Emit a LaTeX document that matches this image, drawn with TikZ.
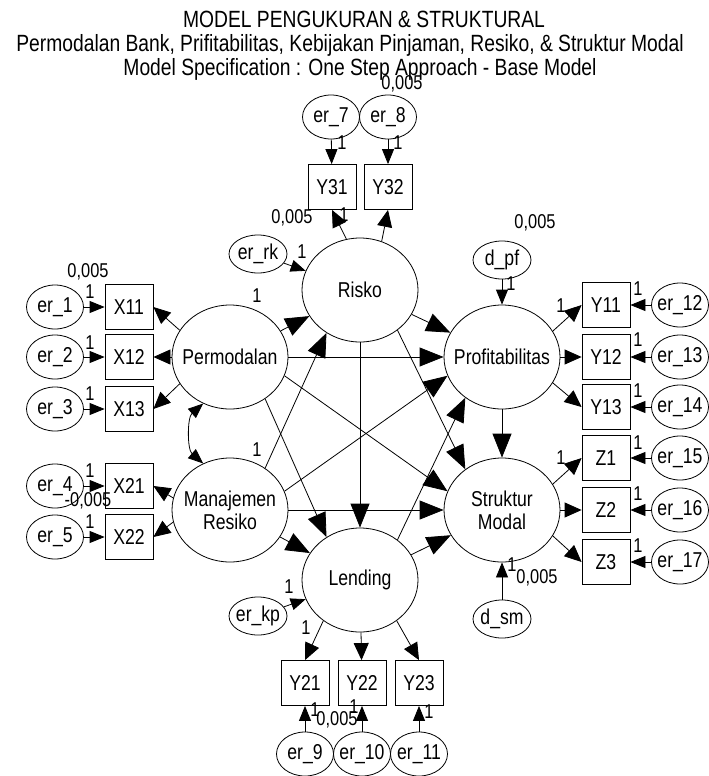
\documentclass[tikz,border=0pt]{standalone}
\usepackage{fontspec}
\setmainfont{Liberation Sans}[FakeStretch=0.82]
\usetikzlibrary{arrows.meta,shapes.geometric}

\newcommand{\zbox}[1]{\makebox[0pt]{#1}}

\begin{document}
\begin{tikzpicture}[
			x=1pt, y=-1pt,
			line width=0.8pt,
			every node/.style={font=\fontsize{21.5}{23}\selectfont, inner sep=0pt},
			latent/.style={draw, ellipse, minimum width=116pt, minimum height=104pt, align=center},
			obs/.style={draw, rectangle, minimum width=48pt, minimum height=45pt},
			err/.style={draw, ellipse, minimum width=57pt, minimum height=44pt},
			dist/.style={draw, ellipse, minimum width=58pt, minimum height=38pt},
			num/.style={font=\fontsize{20}{22}\selectfont},
			title/.style={anchor=base, font=\fontsize{23.5}{25}\selectfont},
			path_big/.style={-{Triangle[length=24pt,width=19pt]}},
			path_mid/.style={-{Triangle[length=17pt,width=15pt]}},
			path_err/.style={-{Triangle[length=15pt,width=12pt]}},
			path_cov/.style={{Triangle[length=15pt,width=12pt]}-{Triangle[length=15pt,width=12pt]}}
			]
			\useasboundingbox (0,0) rectangle (709,776);
			
			% Title
			\node (title_a) [title] at (364,28) {MODEL PENGUKURAN \& STRUKTURAL};
			\node (title_b) [title] at (350,52) {Permodalan Bank, Prifitabilitas, Kebijakan Pinjaman, Resiko, \& Struktur Modal};
			\node (title_c) [title] at (360,75) {Model Specification : One Step Approach - Base Model};
			
			% Latent variables
			\node (perm) [latent] at (230,357) {\zbox{Permodalan}};
			\node (mnj) [latent] at (230,510) {\zbox{Manajemen}\\\zbox{Resiko}};
			\node (risk) [latent] at (360,290) {\zbox{Risko}};
			\node (prof) [latent] at (502,357) {\zbox{Profitabilitas}};
			\node (strk) [latent] at (502,510) {\zbox{Struktur}\\\zbox{Modal}};
			\node (lend) [latent] at (360,580) {\zbox{Lending}};
			
			% Indicators
			\node (x11) [obs] at (129,307) {X11};
			\node (x12) [obs] at (129,357) {X12};
			\node (x13) [obs] at (129,409) {X13};
			\node (x21) [obs] at (129,486) {X21};
			\node (x22) [obs] at (129,537) {X22};
			\node (y31) [obs] at (332,187) {Y31};
			\node (y32) [obs] at (388,187) {Y32};
			\node (y11) [obs] at (606,305) {Y11};
			\node (y12) [obs] at (606,357) {Y12};
			\node (y13) [obs] at (606,407) {Y13};
			\node (z1) [obs] at (606,458) {Z1};
			\node (z2) [obs] at (606,510) {Z2};
			\node (z3) [obs] at (606,562) {Z3};
			\node (y21) [obs] at (305,683) {Y21};
			\node (y22) [obs] at (362,683) {Y22};
			\node (y23) [obs] at (419,683) {Y23};
			
			% Error terms
			\node (er1) [err] at (55,307) {\zbox{er\_1}};
			\node (er2) [err] at (55,357) {\zbox{er\_2}};
			\node (er3) [err] at (55,409) {\zbox{er\_3}};
			\node (er4) [err] at (55,486) {\zbox{er\_4}};
			\node (er5) [err] at (55,537) {\zbox{er\_5}};
			\node (er7) [err] at (331,117) {\zbox{er\_7}};
			\node (er8) [err] at (388,117) {\zbox{er\_8}};
			\node (er12) [err] at (680,305) {\zbox{er\_12}};
			\node (er13) [err] at (680,357) {\zbox{er\_13}};
			\node (er14) [err] at (680,407) {\zbox{er\_14}};
			\node (er15) [err] at (680,458) {\zbox{er\_15}};
			\node (er16) [err] at (680,510) {\zbox{er\_16}};
			\node (er17) [err] at (680,562) {\zbox{er\_17}};
			\node (er9) [err] at (305,754) {\zbox{er\_9}};
			\node (er10) [err] at (362,754) {\zbox{er\_10}};
			\node (er11) [err] at (419,754) {\zbox{er\_11}};
			\node (er_rk) [dist] at (258,254) {\zbox{er\_rk}};
			\node (er_kp) [dist] at (258,616) {\zbox{er\_kp}};
			\node (d_pf) [dist] at (502,260) {\zbox{d\_pf}};
			\node (d_sm) [dist] at (502,619) {\zbox{d\_sm}};
			
			% Structural paths
			\draw[path_big] (perm) -- (risk);
			\draw[path_big] (perm) -- (prof);
			\draw[path_big] (perm.-19) -- (strk.161);
			\draw[path_big] (perm.-50) -- (lend.128);
			\draw[path_big] (mnj.50) -- (risk.232);
			\draw[path_big] (mnj.19) -- (prof.199);
			\draw[path_big] (mnj) -- (strk);
			\draw[path_big] (mnj) -- (lend);
			\draw[path_big] (risk) -- (prof);
			\draw[path_big] (risk.-47) -- (strk.132);
			\draw[path_big] (risk) -- (lend);
			\draw[path_big] (lend.47) -- (prof.228);
			\draw[path_big] (lend) -- (strk);
			\draw[path_big] (prof) -- (strk);
			\draw[path_cov] (perm.240) .. controls +(-16,14) and +(-16,-14) .. (mnj.120);
			
			% Measurement paths
			\draw[path_mid] (perm.152) -- (x11.east);
			\draw[path_mid] (perm) -- (x12);
			\draw[path_mid] (perm.208) -- (x13.east);
			\draw[path_mid] (mnj.168) -- (x21.east);
			\draw[path_mid] (mnj.192) -- (x22.east);
			\draw[path_mid] (risk.105) -- (y31.south);
			\draw[path_mid] (risk.66) -- (y32.south);
			\draw[path_mid] (prof.27) -- (y11.west);
			\draw[path_mid] (prof) -- (y12);
			\draw[path_mid] (prof.-27) -- (y13.west);
			\draw[path_mid] (strk.27) -- (z1.west);
			\draw[path_mid] (strk) -- (z2);
			\draw[path_mid] (strk.-27) -- (z3.west);
			\draw[path_mid] (lend.228) -- (y21.north);
			\draw[path_mid] (lend) -- (y22);
			\draw[path_mid] (lend.-48) -- (y23.north);
			
			% Error paths
			\draw[path_err] (er1) -- (x11);
			\draw[path_err] (er2) -- (x12);
			\draw[path_err] (er3) -- (x13);
			\draw[path_err] (er4) -- (x21);
			\draw[path_err] (er5) -- (x22);
			\draw[path_err] (er7) -- (y31);
			\draw[path_err] (er8) -- (y32);
			\draw[path_err] (er12) -- (y11);
			\draw[path_err] (er13) -- (y12);
			\draw[path_err] (er14) -- (y13);
			\draw[path_err] (er15) -- (z1);
			\draw[path_err] (er16) -- (z2);
			\draw[path_err] (er17) -- (z3);
			\draw[path_err] (er9) -- (y21);
			\draw[path_err] (er10) -- (y22);
			\draw[path_err] (er11) -- (y23);
			\draw[path_err] (er_rk) -- (risk);
			\draw[path_err] (er_kp) -- (lend);
			\draw[path_err] (d_pf) -- (prof);
			\draw[path_err] (d_sm) -- (strk);
			
			% Weights and variances
			\node[num] at (88,272) {0,005};
			\node[num] at (90,292) {1};
			\node[num] at (90,343) {1};
			\node[num] at (90,394) {1};
			\node[num] at (90,471) {1};
			\node[num] at (88,501) {-0,005};
			\node[num] at (90,522) {1};
			\node[num] at (257,296) {1};
			\node[num] at (257,450) {1};
			\node[num] at (292,218) {0,005};
			\node[num] at (302,252) {1};
			\node[num] at (344,215) {1};
			\node[num] at (342,143) {1};
			\node[num] at (398,143) {1};
			\node[num] at (402,84) {0,005};
			\node[num] at (535,223) {0,005};
			\node[num] at (511,284) {1};
			\node[num] at (561,306) {1};
			\node[num] at (638,289) {1};
			\node[num] at (638,340) {1};
			\node[num] at (638,391) {1};
			\node[num] at (561,458) {1};
			\node[num] at (638,443) {1};
			\node[num] at (638,494) {1};
			\node[num] at (638,546) {1};
			\node[num] at (512,565) {1};
			\node[num] at (537,578) {0,005};
			\node[num] at (289,587) {1};
			\node[num] at (306,628) {1};
			\node[num] at (315,710) {1};
			\node[num] at (337,720) {0,005};
			\node[num] at (354,707) {1};
			\node[num] at (429,712) {1};
		\end{tikzpicture}
\end{document}
